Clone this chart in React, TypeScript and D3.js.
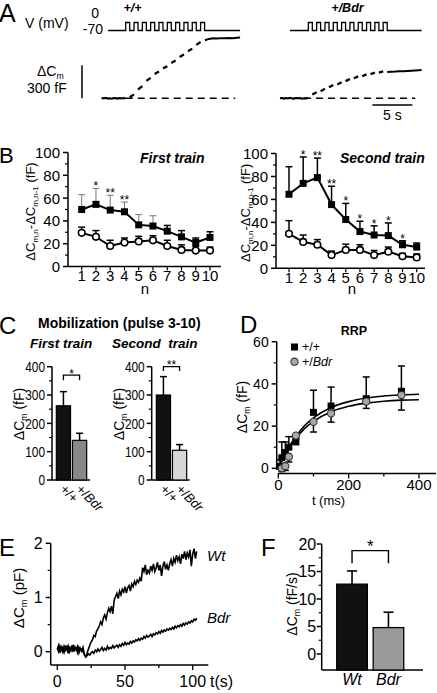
import React from 'react';
import * as d3 from 'd3';

const FONT = '"Liberation Sans", Arial, Helvetica, sans-serif';
const W = 437;
const H = 693;

// ===== Panel A: protocol + capacitance traces (time s, Cm fF) =====
const aPulseCount = 10;
const aPulsePeriodS = 1.04;
const aPulseWidthS = 0.5;
const aHoldMv = -70;
const aStepMv = 0;
const aPreStepS = 0.25;

const aWtTrainStart = 3.0;
const aWtVStart = 0.8;
const aWtEnd = 17.3;
const aWtBaseEnd = 16.7;
const aWtPre = [3, -2, 4, -3, 1, -4, 2, 0, -3, 3, -1, 2, 0];
const aWtDashStart = [10, 80, 158, 222, 272, 322, 376, 428, 486];
const aWtDashEnd = [36, 110, 186, 244, 292, 344, 398, 450, 512];
const aWtPostT = [12.9, 13.4, 13.9, 14.4, 14.9, 15.4, 15.9, 16.4, 16.9, 17.3];
const aWtPost = [528, 540, 545, 543, 547, 545, 549, 546, 550, 552];

const aBdrTrainStart = 3.54;
const aBdrVStart = 1.25;
const aBdrEnd = 17.7;
const aBdrBaseEnd = 16.9;
const aBdrPre = [0, 3, -3, 2, -2, 4, -1, -4, 2, 0, 3, -3, 1, -2, 2];
const aBdrDashStart = [35, 65, 100, 126, 156, 182, 201, 220, 234];
const aBdrDashEnd = [55, 86, 122, 146, 176, 199, 217, 233, 244];
const aBdrPostT = [13.4, 13.9, 14.4, 14.9, 15.4, 15.9, 16.4, 16.9, 17.3, 17.7];
const aBdrPost = [238, 241, 243, 246, 247, 249, 251, 253, 255, 257];
const aScaleBarCm = 300;
const aScaleBarS = 5;
const aScaleBarStart = 11.55;

// ===== Panel B: per-pulse increments (fF) =====
const bN = [1, 2, 3, 4, 5, 6, 7, 8, 9, 10];
const bFirstWt = [50, 54.5, 49.5, 48, 36.5, 35.5, 31, 26, 21, 25.5];
const bFirstWtErr = [13, 14, 13, 8.5, 9, 9, 5, 5.5, 4, 5];
const bFirstBdr = [29.5, 26, 18, 21, 22, 23, 18, 14.5, 14, 14];
const bFirstBdrErr = [5, 5.5, 5, 4, 4.5, 4, 5, 4.5, 3.5, 3];
const bFirstSig = ['', '*', '**', '**', '', '', '', '', '', ''];
const bSecondWt = [64.5, 74, 79, 55.5, 42.5, 32, 29, 28.5, 20.5, 18.5];
const bSecondWtErr = [24, 23, 17, 16, 14, 9, 8, 11, 3.5, 3.5];
const bSecondBdr = [30, 23, 20.5, 11.5, 16, 16, 11.5, 14.5, 10.5, 9.5];
const bSecondBdrErr = [11.5, 6, 4.5, 3.5, 5, 4.5, 4, 4, 2.5, 3];
const bSecondSig = ['', '*', '**', '**', '*', '*', '*', '*', '*', ''];
const bYTicks = [0, 20, 40, 60, 80, 100];
const bYMinor = [10, 30, 50, 70, 90];

// ===== Panel C: mobilization (fF) =====
const cGroups = ['+/+', '+/Bdr'];
const cFirstVals = [262, 140];
const cFirstErr = [50, 25];
const cSecondVals = [300, 105];
const cSecondErr = [65, 20];
const cYTicks = [0, 100, 200, 300, 400];
const cYMinor = [50, 150, 250, 350];

// ===== Panel D: RRP (t ms, fF) =====
const dWtT = [5, 10, 20, 30, 50, 100, 150, 250, 350];
const dWtV = [1, 5, 7.5, 10, 12.5, 26.5, 29.5, 33, 36.5];
const dWtErr = [3, 7.5, 5, 5, 2.5, 10.5, 9, 10.3, 12];
const dBdrT = [10, 20, 30, 50, 100, 150, 250, 350];
const dBdrV = [0, 1, 5.5, 15.5, 22, 26, 31.6, 34.7];
const dBdrErr = [1.5, 2, 2.5, 1.5, 4.8, 4.1, 3.2, 7.1];
const dFitT = [0, 25, 50, 75, 100, 150, 200, 250, 300, 350, 400];
const dFitWt = [0, 8.6, 15.1, 20.3, 23.9, 28.8, 31.6, 33.3, 34.3, 34.8, 35.1];
const dFitBdr = [0, 8.0, 14.1, 18.9, 22.2, 26.8, 29.4, 30.9, 31.8, 32.3, 32.5];

// ===== Panel E: traces, 1 s sampling (pF) =====
const eWt = [
  0.05, 0.12, -0.02, 0.08, 0.0, 0.1, 0.03, 0.11, -0.03, 0.07, 0.02, 0.12, 0.0, 0.09, 0.04, 0.1, -0.02, 0.06, 0.01, 0.08,
  -0.06, -0.09, -0.03, 0.05,
  0.12, 0.18, 0.22, 0.3, 0.28, 0.38, 0.42, 0.48, 0.55, 0.5, 0.62, 0.68, 0.6, 0.72, 0.8, 0.74, 0.84, 0.7, 0.95, 1.02,
  1.08, 0.98, 1.12, 1.05, 1.15, 1.1, 1.2, 1.08, 1.18, 1.22, 1.12, 1.25, 1.2, 1.3, 1.24, 1.32, 1.28, 1.36, 1.3,
  1.55, 1.48, 1.6, 1.42, 1.5, 1.45, 1.58, 1.5, 1.62, 1.48, 1.55, 1.65, 1.5, 1.6, 1.4, 1.58, 1.66, 1.52, 1.6, 1.5,
  1.62, 1.7, 1.58, 1.72, 1.65, 1.78, 1.68, 1.75, 1.62, 1.8, 1.72, 1.85, 1.7, 1.82, 1.75, 1.88, 1.58, 1.8, 1.9, 1.72, 1.85,
];
const eBdr = [
  0.06, 0.0, 0.1, 0.03, 0.08, -0.01, 0.09, 0.04, 0.11, 0.0, 0.07, 0.02, 0.1, 0.03, 0.06, -0.02, 0.08, 0.03, 0.05, 0.0,
  -0.05, -0.1, -0.07, -0.04,
  -0.06, -0.02, 0.0, -0.03, 0.03, 0.0, 0.05, 0.01, 0.04, 0.08, 0.02, 0.06, 0.03, 0.1, 0.05, 0.08, 0.06, 0.11, 0.07, 0.1,
  0.12, 0.08, 0.13, 0.1, 0.15, 0.12, 0.17, 0.13, 0.16, 0.14, 0.19, 0.16, 0.2, 0.18, 0.22, 0.2, 0.24, 0.21, 0.25,
  0.23, 0.28, 0.25, 0.3, 0.27, 0.29, 0.32, 0.28, 0.33, 0.31, 0.35, 0.33, 0.37, 0.34, 0.39, 0.36, 0.4, 0.38, 0.42, 0.4,
  0.43, 0.41, 0.45, 0.42, 0.47, 0.44, 0.48, 0.46, 0.5, 0.47, 0.52, 0.49, 0.53, 0.51, 0.55, 0.53, 0.57, 0.55, 0.6, 0.58, 0.62,
];
const eSampleS = 1;

// ===== Panel F: rate (fF/s) =====
const fGroups = ['Wt', 'Bdr'];
const fVals = [12.7, 4.8];
const fErr = [2.4, 2.8];
const fYTicks = [0, 5, 10, 15, 20];
const fYMinor = [2.5, 7.5, 12.5, 17.5];

const K = '#000';

function Txt(props: any) {
  return <text fontFamily={FONT} fill={K} {...props} />;
}

function DeltaCm({ x, y, fs, rotate = false, suffix, anchor = 'middle' }: any) {
  const tr = rotate ? `translate(${x},${y}) rotate(-90)` : `translate(${x},${y})`;
  return (
    <text transform={tr} fontFamily={FONT} fontSize={fs} textAnchor={anchor} fill={K}>
      ΔC<tspan fontSize={fs * 0.62} dy={fs * 0.22}>m</tspan>
      <tspan dy={-fs * 0.22}>{suffix}</tspan>
    </text>
  );
}

function YAxis({ scale, x, major, minor = [], top, bottom, fs, len = 5, gap = 3, narrow = 0 }: any) {
  return (
    <g>
      <line x1={x} x2={x} y1={top} y2={bottom} stroke={K} strokeWidth={1.5} />
      {major.map((v: number) => (
        <line key={'M' + v} x1={x - len} x2={x} y1={scale(v)} y2={scale(v)} stroke={K} strokeWidth={1.5} />
      ))}
      {minor.map((v: number) => (
        <line key={'m' + v} x1={x - len * 0.6} x2={x} y1={scale(v)} y2={scale(v)} stroke={K} strokeWidth={1.2} />
      ))}
      {major.map((v: number) => {
        const extra = narrow ? { textLength: String(v).length * narrow, lengthAdjust: 'spacingAndGlyphs' } : {};
        return (
          <Txt key={'L' + v} x={x - len - gap} y={scale(v)} dy="0.36em" textAnchor="end" fontSize={fs} {...extra}>
            {v}
          </Txt>
        );
      })}
    </g>
  );
}

function PanelA() {
  const vy = d3.scaleLinear().domain([aHoldMv, aStepMv]).range([30.5, 22.5]);
  const cy = d3.scaleLinear().domain([0, aScaleBarCm]).range([98.3, 65.3]);
  const traces = [
    { x0: 101.7, ts: aWtTrainStart, vs: aWtVStart, end: aWtEnd, be: aWtBaseEnd, pre: aWtPre, ds: aWtDashStart, de: aWtDashEnd, pt: aWtPostT, pv: aWtPost },
    { x0: 280, ts: aBdrTrainStart, vs: aBdrVStart, end: aBdrEnd, be: aBdrBaseEnd, pre: aBdrPre, ds: aBdrDashStart, de: aBdrDashEnd, pt: aBdrPostT, pv: aBdrPost },
  ];
  return (
    <g>
      <Txt x={-1} y={22} fontSize={25}>A</Txt>
      <Txt x={25} y={27.5} fontSize={14}>V (mV)</Txt>
      <Txt x={99} y={18} fontSize={14} textAnchor="end">0</Txt>
      <Txt x={103} y={34} fontSize={14} textAnchor="end">-70</Txt>
      <DeltaCm x={37} y={76} fs={14} anchor="start" suffix="" />
      <Txt x={27} y={93} fontSize={14}>300 fF</Txt>
      <Txt x={132.5} y={11.5} fontSize={12.5} fontWeight="bold" fontStyle="italic" textAnchor="middle">+/+</Txt>
      <Txt x={347.5} y={11.5} fontSize={12.5} fontWeight="bold" fontStyle="italic" textAnchor="middle">+/Bdr</Txt>
      {traces.map((tr, ti) => {
        const xs = d3.scaleLinear().domain([0, 1]).range([tr.x0, tr.x0 + 8]);
        const vpts: [number, number][] = [[tr.vs, aHoldMv]];
        for (let k = 0; k < aPulseCount; k++) {
          const on = tr.ts + k * aPulsePeriodS;
          const off = on + aPulseWidthS;
          vpts.push([on, aHoldMv], [on, aStepMv], [off, aStepMv], [off, aHoldMv]);
        }
        vpts.push([tr.end, aHoldMv]);
        const vline = d3.line<[number, number]>().x((d) => xs(d[0])).y((d) => vy(d[1]));
        const cline = d3.line<[number, number]>().x((d) => xs(d[0])).y((d) => cy(d[1]));
        const pre = tr.pre.map((v, i) => [i * aPreStepS, v] as [number, number]);
        const post = tr.pt.map((t, i) => [t, tr.pv[i]] as [number, number]);
        return (
          <g key={ti}>
            <path d={vline(vpts) || ''} fill="none" stroke={K} strokeWidth={1.3} />
            <line x1={xs(0)} x2={xs(tr.be)} y1={cy(0)} y2={cy(0)} stroke={K} strokeWidth={1.4} strokeDasharray="7 5" />
            <path d={cline(pre) || ''} fill="none" stroke={K} strokeWidth={2} />
            {tr.ds.map((v, i) => {
              const t1 = tr.ts + i * aPulsePeriodS + aPulseWidthS;
              const t2 = tr.ts + (i + 1) * aPulsePeriodS;
              return <line key={i} x1={xs(t1)} x2={xs(t2)} y1={cy(v)} y2={cy(tr.de[i])} stroke={K} strokeWidth={2.3} />;
            })}
            <path d={cline(post) || ''} fill="none" stroke={K} strokeWidth={2} />
          </g>
        );
      })}
      <line x1={82} x2={82} y1={cy(0)} y2={cy(aScaleBarCm)} stroke={K} strokeWidth={1.5} />
      {(() => {
        const xs = d3.scaleLinear().domain([0, 1]).range([280, 288]);
        return (
          <g>
            <line x1={xs(aScaleBarStart)} x2={xs(aScaleBarStart + aScaleBarS)} y1={105} y2={105} stroke={K} strokeWidth={1.5} />
            <Txt x={xs(aScaleBarStart + aScaleBarS / 2)} y={120} fontSize={14} textAnchor="middle">5 s</Txt>
          </g>
        );
      })()}
    </g>
  );
}

function TrainPanel(p: any) {
  const x = d3.scaleLinear().domain([1, 10]).range([p.xFirst, p.xLast]);
  const y = d3.scaleLinear().domain([0, 100]).range([p.y0, p.y100]);
  const line = d3.line<number>().x((_, i) => x(bN[i])).y((d) => y(d));
  const errBar = (vals: number[], errs: number[], key: string, thinCount: number) =>
    vals.map((v, i) => {
      const thin = i < thinCount;
      const col = thin ? '#777' : K;
      const sw = thin ? 1 : 1.5;
      const top = y(v + errs[i]);
      return (
        <g key={key + i}>
          <line x1={x(bN[i])} x2={x(bN[i])} y1={y(v)} y2={top} stroke={col} strokeWidth={sw} />
          <line x1={x(bN[i]) - 3.5} x2={x(bN[i]) + 3.5} y1={top} y2={top} stroke={col} strokeWidth={sw} />
        </g>
      );
    });
  const fs = 13;
  return (
    <g>
      <YAxis scale={y} x={p.axisX} major={bYTicks} minor={bYMinor} top={p.y100} bottom={p.y0} fs={15} />
      <line x1={p.axisX} x2={p.xEnd} y1={p.y0} y2={p.y0} stroke={K} strokeWidth={1.5} />
      {bN.map((n) => (
        <g key={n}>
          <line x1={x(n)} x2={x(n)} y1={p.y0} y2={p.y0 + 4} stroke={K} strokeWidth={1.2} />
          <Txt x={x(n)} y={p.y0 + 14.5} fontSize={15} textAnchor="middle">{n}</Txt>
        </g>
      ))}
      <Txt x={p.nX} y={293.5} fontSize={15} textAnchor="middle">n</Txt>
      {errBar(p.wt, p.wtErr, 'we', p.thin)}
      {errBar(p.bdr, p.bdrErr, 'be', 0)}
      <path d={line(p.wt) || ''} fill="none" stroke={K} strokeWidth={2} />
      <path d={line(p.bdr) || ''} fill="none" stroke={K} strokeWidth={2} />
      {p.wt.map((v: number, i: number) => (
        <rect key={'s' + i} x={x(bN[i]) - 3.5} y={y(v) - 3.5} width={7} height={7} fill={K} />
      ))}
      {p.bdr.map((v: number, i: number) => (
        <circle key={'c' + i} cx={x(bN[i])} cy={y(v)} r={3.3} fill="#fff" stroke={K} strokeWidth={1.6} />
      ))}
      {p.sig.map((s: string, i: number) =>
        s ? (
          <Txt key={'a' + i} x={x(bN[i])} y={y(p.wt[i] + p.wtErr[i]) + 2} fontSize={12} textAnchor="middle">{s}</Txt>
        ) : null
      )}
      <Txt x={p.titleX} y={163} fontSize={14} fontWeight="bold" fontStyle="italic">{p.title}</Txt>
      <text transform={`translate(${p.labX},${(p.y0 + p.y100) / 2 + 2}) rotate(-90)`} fontFamily={FONT} fontSize={fs} textAnchor="middle" fill={K}>
        ΔC<tspan fontSize={fs * 0.62} dy={fs * 0.22}>m,n</tspan>
        <tspan dy={-fs * 0.22}>-ΔC</tspan>
        <tspan fontSize={fs * 0.62} dy={fs * 0.22}>m,n-1</tspan>
        <tspan dy={-fs * 0.22}> (fF)</tspan>
      </text>
    </g>
  );
}

function MobPanel(p: any) {
  const y = d3.scaleLinear().domain([0, 400]).range([480, 366.7]);
  const xb = d3.scaleBand().domain(cGroups).range(p.range).paddingInner(0.12).paddingOuter(0.02);
  const c0 = (xb(cGroups[0]) || 0) + xb.bandwidth() / 2;
  const c1 = (xb(cGroups[1]) || 0) + xb.bandwidth() / 2;
  const by = y(p.bracket);
  const ly = y(p.leg);
  return (
    <g>
      <YAxis scale={y} x={p.axisX} major={cYTicks} minor={cYMinor} top={366.7} bottom={480} fs={15} gap={2} narrow={6.6} />
      <line x1={p.axisX} x2={p.axisX + 38} y1={480} y2={480} stroke={K} strokeWidth={1.5} />
      {cGroups.map((g, i) => {
        const x0 = xb(g) || 0;
        const cx = x0 + xb.bandwidth() / 2;
        const top = y(p.vals[i] + p.errs[i]);
        return (
          <g key={g}>
            <line x1={cx} x2={cx} y1={y(p.vals[i])} y2={top} stroke={K} strokeWidth={1.5} />
            <line x1={cx - 3.5} x2={cx + 3.5} y1={top} y2={top} stroke={K} strokeWidth={1.5} />
            <rect x={x0} y={y(p.vals[i])} width={xb.bandwidth()} height={480 - y(p.vals[i])} fill={p.fills[i]} stroke={K} strokeWidth={1.2} />
            <text transform={`translate(${cx - 4},${490}) rotate(45)`} fontFamily={FONT} fontSize={13} fill={K}>
              {i === 0 ? '+/+' : <>+/<tspan fontStyle="italic">Bdr</tspan></>}
            </text>
          </g>
        );
      })}
      <path d={`M${c0},${ly}V${by}H${c1}V${ly}`} fill="none" stroke={K} strokeWidth={1.3} />
      <Txt x={(c0 + c1) / 2} y={by + 2.5} fontSize={12} textAnchor="middle">{p.sig}</Txt>
      <DeltaCm x={p.labX} y={414} fs={14} rotate suffix=" (fF)" />
    </g>
  );
}

function PanelD() {
  const x = d3.scaleLinear().domain([0, 400]).range([278.3, 419]);
  const y = d3.scaleLinear().domain([0, 60]).range([468.3, 341.7]);
  const fit = d3.line<number>().x((_, i) => x(dFitT[i])).y((d) => y(d)).curve(d3.curveMonotoneX);
  return (
    <g>
      <Txt x={240} y={333} fontSize={24}>D</Txt>
      <Txt x={354} y={335} fontSize={12.5} fontWeight="bold" textAnchor="middle">RRP</Txt>
      <YAxis scale={y} x={276.7} major={[0, 20, 40, 60]} minor={[10, 30, 50]} top={341.7} bottom={470} fs={14} />
      <line x1={278} x2={436} y1={473.5} y2={473.5} stroke={K} strokeWidth={1.5} />
      {[0, 100, 200, 300, 400].map((t) => (
        <line key={t} x1={x(t)} x2={x(t)} y1={473.5} y2={473.5 + (t % 200 === 0 ? 5 : 3)} stroke={K} strokeWidth={1.3} />
      ))}
      {[0, 200, 400].map((t) => (
        <Txt key={'l' + t} x={x(t)} y={490} fontSize={15} textAnchor="middle">{t}</Txt>
      ))}
      <Txt x={328.5} y={505} fontSize={13} textAnchor="middle">t (ms)</Txt>
      <DeltaCm x={247} y={407} fs={14} rotate suffix=" (fF)" />
      <path d={fit(dFitWt) || ''} fill="none" stroke={K} strokeWidth={1.6} />
      <path d={fit(dFitBdr) || ''} fill="none" stroke={K} strokeWidth={1.6} />
      {dWtT.map((t, i) => {
        const top = y(dWtV[i] + dWtErr[i]);
        return (
          <g key={'we' + i}>
            <line x1={x(t)} x2={x(t)} y1={y(dWtV[i])} y2={top} stroke={K} strokeWidth={1.5} />
            <line x1={x(t) - 3.5} x2={x(t) + 3.5} y1={top} y2={top} stroke={K} strokeWidth={1.5} />
          </g>
        );
      })}
      {dBdrT.map((t, i) => {
        const bot = y(dBdrV[i] - dBdrErr[i]);
        return (
          <g key={'be' + i}>
            <line x1={x(t)} x2={x(t)} y1={y(dBdrV[i])} y2={bot} stroke={K} strokeWidth={1.5} />
            <line x1={x(t) - 3.5} x2={x(t) + 3.5} y1={bot} y2={bot} stroke={K} strokeWidth={1.5} />
          </g>
        );
      })}
      {dWtT.map((t, i) => (
        <rect key={'s' + i} x={x(t) - 3.5} y={y(dWtV[i]) - 3.5} width={7} height={7} fill={K} />
      ))}
      {dBdrT.map((t, i) => (
        <circle key={'c' + i} cx={x(t)} cy={y(dBdrV[i])} r={3.6} fill="#a8a8a8" stroke="#333" strokeWidth={1.1} />
      ))}
      <rect x={291} y={343.5} width={7} height={7} fill={K} />
      <Txt x={302} y={351} fontSize={12.5}>+/+</Txt>
      <circle cx={294.5} cy={361.7} r={3.6} fill="#a8a8a8" stroke="#333" strokeWidth={1.1} />
      <Txt x={302} y={366} fontSize={12.5}>+/<tspan fontStyle="italic">Bdr</tspan></Txt>
    </g>
  );
}

function PanelE() {
  const x = d3.scaleLinear().domain([0, 100]).range([57.3, 192.7]);
  const y = d3.scaleLinear().domain([0, 2]).range([651.7, 543.3]);
  const line = d3.line<number>().x((_, i) => x(i * eSampleS)).y((d) => y(d));
  return (
    <g>
      <Txt x={-1} y={556} fontSize={24}>E</Txt>
      <YAxis scale={y} x={50.7} major={[0, 1, 2]} minor={[0.5, 1.5]} top={543.3} bottom={665} fs={16} />
      <line x1={50.7} x2={208.3} y1={665} y2={665} stroke={K} strokeWidth={1.5} />
      {[0, 25, 50, 75, 100].map((t) => (
        <line key={t} x1={x(t)} x2={x(t)} y1={665} y2={665 + (t % 50 === 0 ? 5 : 3)} stroke={K} strokeWidth={1.3} />
      ))}
      {[0, 50, 100].map((t) => (
        <Txt key={'l' + t} x={x(t)} y={687} fontSize={16} textAnchor="middle">{t}</Txt>
      ))}
      <Txt x={210} y={687} fontSize={16}>t(s)</Txt>
      <DeltaCm x={24} y={598} fs={15} rotate suffix=" (pF)" />
      <path d={line(eBdr) || ''} fill="none" stroke={K} strokeWidth={1.6} />
      <path d={line(eWt) || ''} fill="none" stroke={K} strokeWidth={1.6} />
      <Txt x={207} y={561} fontSize={15} fontStyle="italic">Wt</Txt>
      <Txt x={207} y={623} fontSize={15} fontStyle="italic">Bdr</Txt>
    </g>
  );
}

function PanelF() {
  const y = d3.scaleLinear().domain([0, 20]).range([654, 544]);
  const xb = d3.scaleBand().domain(fGroups).range([336, 404.5]).paddingInner(0.16).paddingOuter(0.02);
  const fills = ['#111', '#9a9a9a'];
  const c0 = (xb(fGroups[0]) || 0) + xb.bandwidth() / 2;
  const c1 = (xb(fGroups[1]) || 0) + xb.bandwidth() / 2;
  const base = 670;
  const by = y(18.8);
  const ly = y(16.5);
  return (
    <g>
      <Txt x={261} y={556} fontSize={24}>F</Txt>
      <YAxis scale={y} x={321.7} major={fYTicks} minor={fYMinor} top={544} bottom={base} fs={16} gap={0.5} />
      <line x1={321.7} x2={423} y1={base} y2={base} stroke={K} strokeWidth={1.5} />
      {fGroups.map((g, i) => {
        const x0 = xb(g) || 0;
        const cx = x0 + xb.bandwidth() / 2;
        const top = y(fVals[i] + fErr[i]);
        return (
          <g key={g}>
            <line x1={cx} x2={cx} y1={y(fVals[i])} y2={top} stroke={K} strokeWidth={1.6} />
            <line x1={cx - 5} x2={cx + 5} y1={top} y2={top} stroke={K} strokeWidth={1.6} />
            <rect x={x0} y={y(fVals[i])} width={xb.bandwidth()} height={base - y(fVals[i])} fill={fills[i]} stroke={K} strokeWidth={1.3} />
            <Txt x={cx} y={685} fontSize={16} fontStyle="italic" textAnchor="middle">{g}</Txt>
          </g>
        );
      })}
      <path d={`M${c0},${ly}V${by}H${c1}V${ly}`} fill="none" stroke={K} strokeWidth={1.4} />
      <Txt x={(c0 + c1) / 2} y={by + 1.5} fontSize={17} textAnchor="middle">*</Txt>
      <DeltaCm x={297} y={604} fs={14} rotate suffix=" (fF/s)" />
    </g>
  );
}

export default function App() {
  return (
    <svg width={W} height={H} viewBox={`0 0 ${W} ${H}`} style={{ position: 'absolute', left: 0, top: 0, background: '#fff' }}>
      <rect width={W} height={H} fill="#fff" />
      <PanelA />
      <Txt x={-1} y={163} fontSize={22}>B</Txt>
      <TrainPanel axisX={68} xFirst={81.7} xLast={210} xEnd={221} y0={266.5} y100={152.5} wt={bFirstWt} wtErr={bFirstWtErr} bdr={bFirstBdr} bdrErr={bFirstBdrErr} sig={bFirstSig} thin={6} title="First train" titleX={140} labX={35} nX={145} />
      <TrainPanel axisX={276} xFirst={289} xLast={416.7} xEnd={425} y0={268.3} y100={153.5} wt={bSecondWt} wtErr={bSecondWtErr} bdr={bSecondBdr} bdrErr={bSecondBdrErr} sig={bSecondSig} thin={0} title="Second train" titleX={340} labX={250} nX={352} />
      <Txt x={-1} y={334} fontSize={24}>C</Txt>
      <Txt x={38} y={328} fontSize={14} fontWeight="bold">Mobilization (pulse 3-10)</Txt>
      <Txt x={30} y={348} fontSize={13.5} fontWeight="bold" fontStyle="italic">First train</Txt>
      <Txt x={112} y={348} fontSize={13.5} fontWeight="bold" fontStyle="italic" style={{ whiteSpace: 'pre' }}>Second  train</Txt>
      <MobPanel axisX={52} range={[56, 87]} vals={cFirstVals} errs={cFirstErr} fills={['#111', '#888']} bracket={370} leg={352} sig="*" labX={24} />
      <MobPanel axisX={151.7} range={[156, 187]} vals={cSecondVals} errs={cSecondErr} fills={['#111', '#d6d6d6']} bracket={400} leg={385} sig="**" labX={124} />
      <PanelD />
      <PanelE />
      <PanelF />
    </svg>
  );
}
